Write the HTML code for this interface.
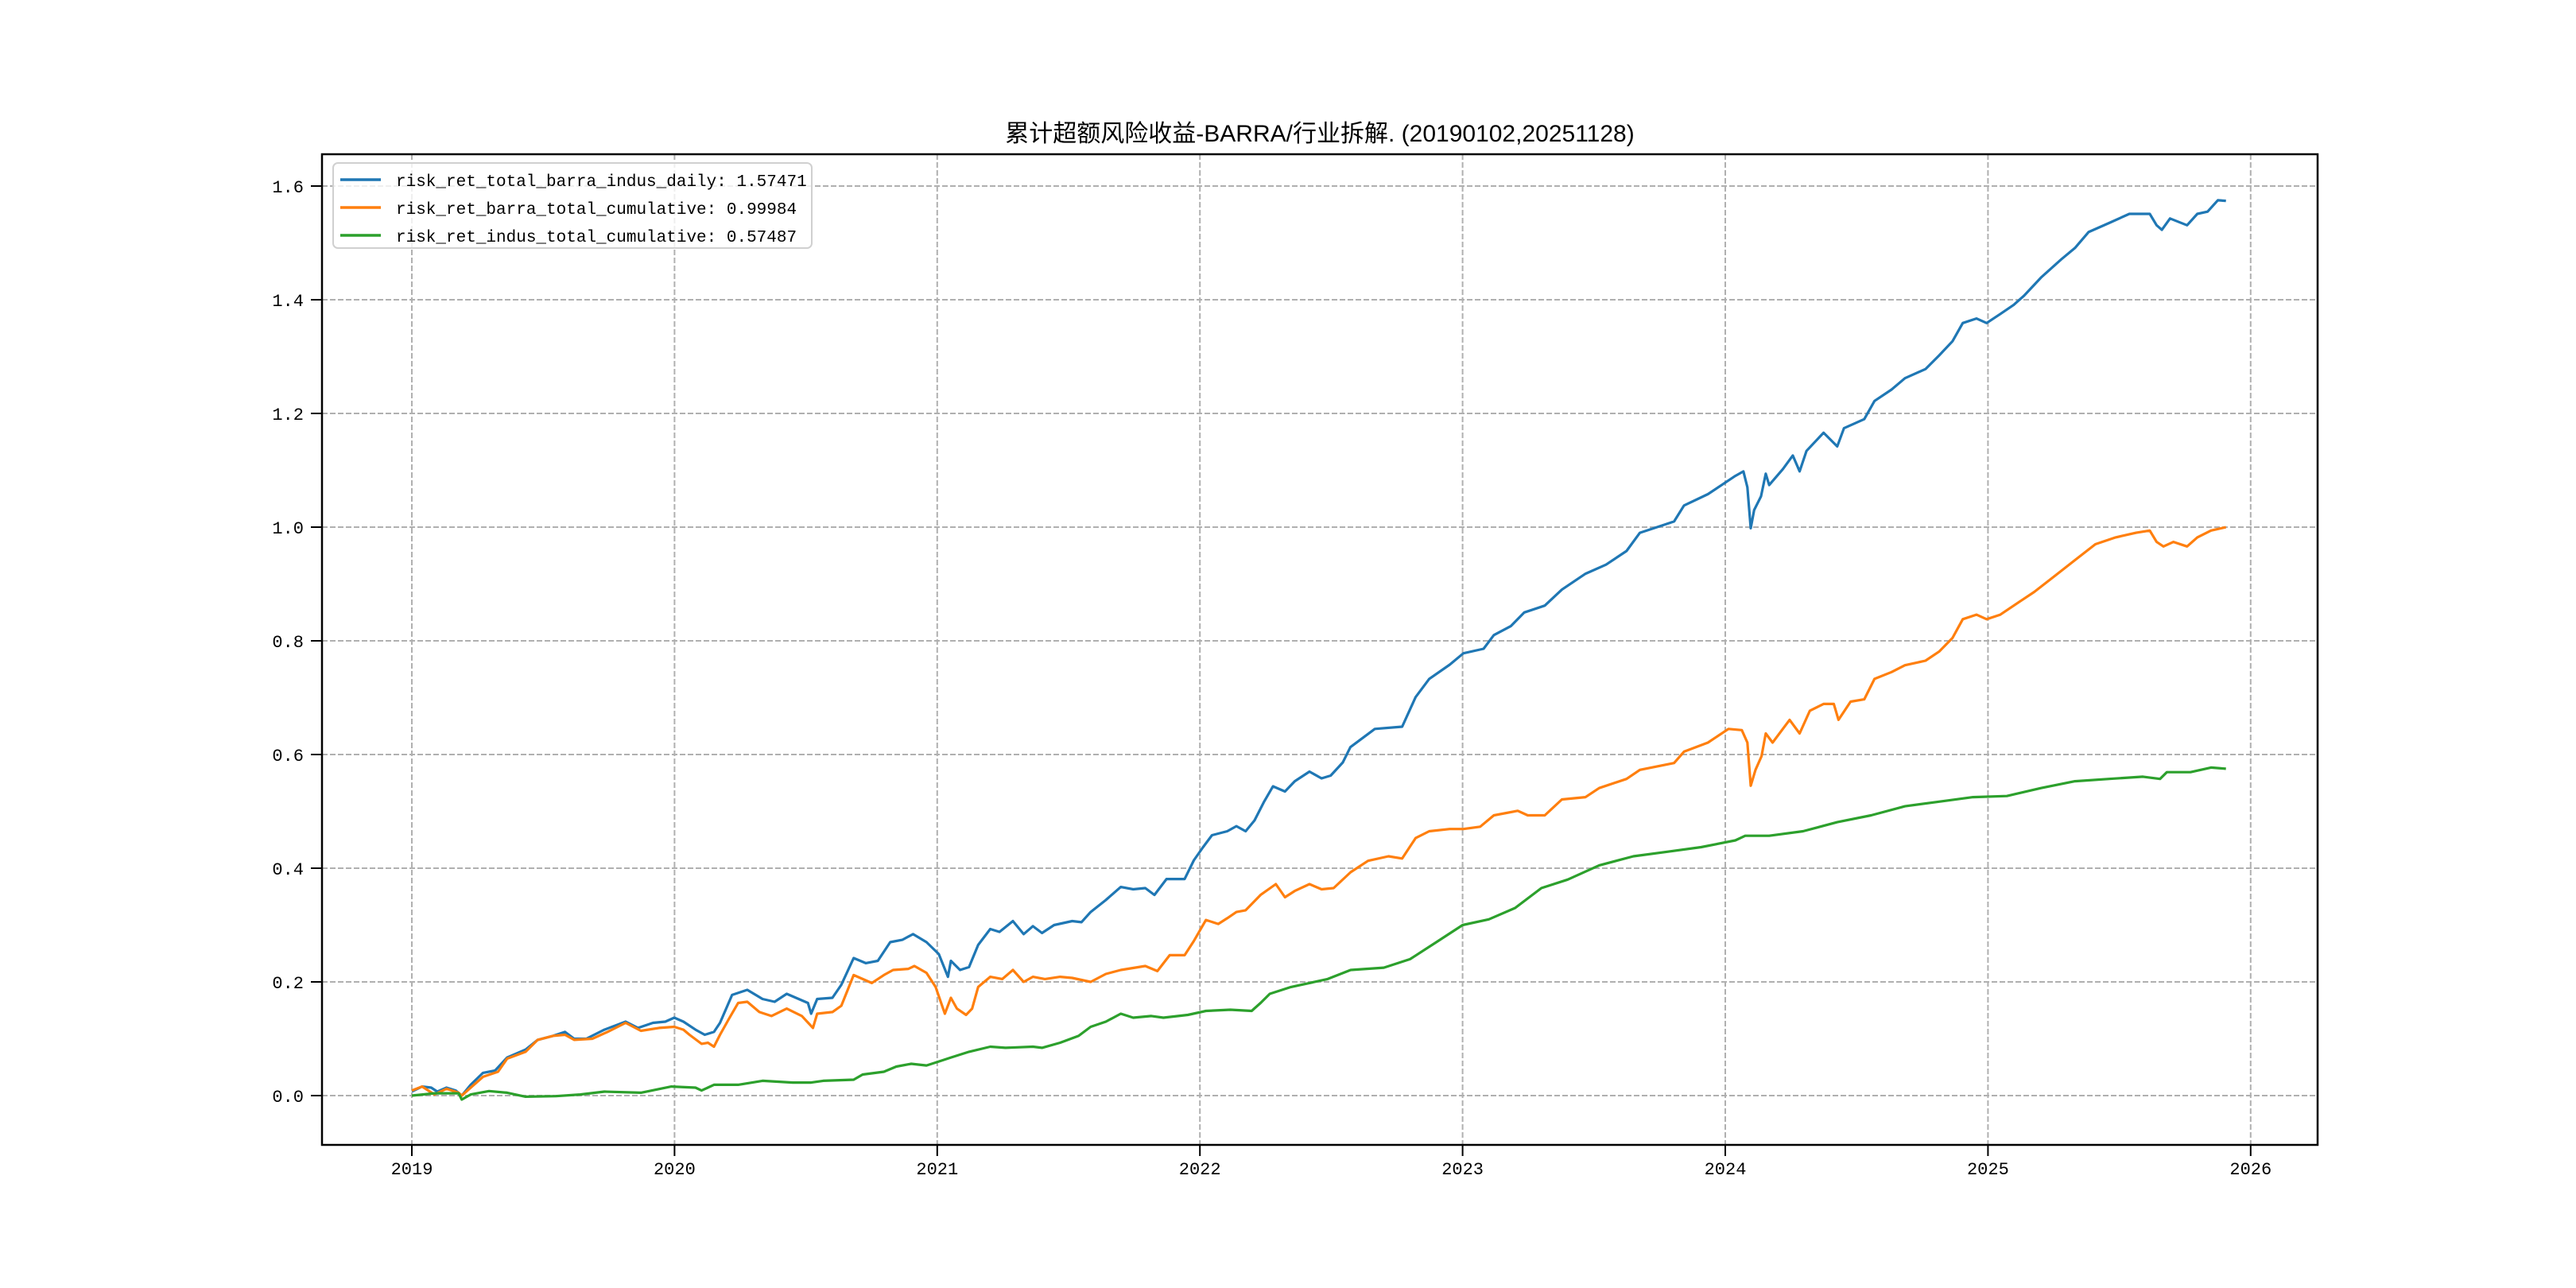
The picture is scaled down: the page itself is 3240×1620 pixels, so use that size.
<!DOCTYPE html>
<html><head><meta charset="utf-8"><style>
html,body{margin:0;padding:0;background:#fff;}
svg{display:block;}
</style></head><body>
<svg id="chart" width="3240" height="1620" viewBox="0 0 3240 1620" xmlns="http://www.w3.org/2000/svg">
<rect width="3240" height="1620" fill="#fff"/>
<text x="1660" y="178" text-anchor="middle" font-family="Liberation Sans, Noto Sans CJK SC, sans-serif" font-size="30">累计超额风险收益-BARRA/行业拆解. (20190102,20251128)</text>
<g id="grid"></g>
<g id="series"></g>
<rect x="405" y="194" width="2510" height="1246" fill="none" stroke="#000" stroke-width="2.5"/>
<g id="axes"></g>
<g id="legend"></g>
</svg>
<script>
// years since 2019 (x) and values (y)
const blueT=[0,0.039,0.074,0.097,0.132,0.167,0.19,0.224,0.271,0.317,0.363,0.433,0.479,0.537,0.583,0.618,0.664,0.733,0.814,0.861,0.918,0.965,0.999,1.034,1.08,1.115,1.15,1.173,1.219,1.277,1.335,1.381,1.427,1.508,1.52,1.543,1.601,1.635,1.682,1.728,1.774,1.821,1.867,1.908,1.959,2.006,2.041,2.052,2.087,2.121,2.156,2.202,2.237,2.288,2.329,2.364,2.399,2.445,2.514,2.549,2.584,2.642,2.699,2.746,2.792,2.827,2.873,2.942,2.977,3.012,3.046,3.104,3.139,3.174,3.208,3.243,3.278,3.324,3.361,3.417,3.463,3.498,3.544,3.573,3.666,3.77,3.821,3.873,3.951,4.003,4.08,4.119,4.184,4.235,4.313,4.378,4.468,4.546,4.624,4.675,4.753,4.805,4.843,4.934,4.986,5.038,5.069,5.084,5.097,5.11,5.136,5.154,5.167,5.219,5.257,5.283,5.309,5.374,5.426,5.452,5.529,5.568,5.633,5.684,5.762,5.814,5.865,5.904,5.956,5.995,6.047,6.098,6.137,6.202,6.279,6.331,6.383,6.461,6.538,6.616,6.642,6.662,6.693,6.758,6.797,6.836,6.875,6.906];
const blueV=[0.007,0.016,0.014,0.007,0.014,0.009,0.0,0.019,0.04,0.044,0.067,0.081,0.098,0.105,0.112,0.1,0.1,0.116,0.13,0.119,0.128,0.13,0.137,0.13,0.116,0.107,0.112,0.128,0.177,0.186,0.17,0.165,0.179,0.163,0.144,0.17,0.172,0.195,0.242,0.233,0.237,0.27,0.274,0.284,0.27,0.249,0.209,0.237,0.221,0.226,0.265,0.293,0.288,0.307,0.284,0.298,0.286,0.3,0.307,0.305,0.323,0.344,0.367,0.363,0.365,0.353,0.381,0.381,0.414,0.437,0.458,0.465,0.474,0.465,0.484,0.516,0.544,0.535,0.553,0.57,0.558,0.563,0.586,0.613,0.645,0.649,0.701,0.733,0.758,0.778,0.786,0.81,0.826,0.85,0.862,0.89,0.918,0.934,0.958,0.99,1.002,1.01,1.038,1.058,1.074,1.09,1.098,1.07,0.998,1.03,1.054,1.094,1.074,1.102,1.126,1.098,1.134,1.166,1.142,1.174,1.19,1.222,1.242,1.262,1.278,1.302,1.327,1.359,1.367,1.359,1.375,1.391,1.407,1.439,1.471,1.491,1.519,1.535,1.551,1.551,1.531,1.523,1.543,1.531,1.551,1.555,1.575,1.574];
const orangeT=[0,0.039,0.086,0.132,0.178,0.19,0.224,0.271,0.328,0.363,0.433,0.479,0.537,0.583,0.618,0.687,0.745,0.814,0.872,0.941,0.999,1.034,1.057,1.103,1.127,1.15,1.173,1.207,1.242,1.277,1.323,1.369,1.427,1.485,1.527,1.543,1.601,1.635,1.682,1.751,1.797,1.832,1.89,1.913,1.959,1.994,2.029,2.052,2.075,2.11,2.133,2.156,2.202,2.248,2.288,2.329,2.364,2.41,2.468,2.514,2.584,2.642,2.699,2.792,2.838,2.885,2.942,2.977,3.023,3.07,3.104,3.139,3.174,3.231,3.289,3.324,3.361,3.417,3.463,3.509,3.574,3.64,3.718,3.77,3.821,3.873,3.951,4.003,4.067,4.119,4.21,4.248,4.313,4.378,4.468,4.52,4.624,4.675,4.805,4.843,4.934,5.012,5.063,5.084,5.097,5.115,5.138,5.154,5.18,5.245,5.283,5.322,5.374,5.413,5.431,5.477,5.529,5.568,5.633,5.684,5.762,5.814,5.865,5.904,5.956,5.995,6.047,6.111,6.176,6.254,6.331,6.409,6.486,6.564,6.616,6.642,6.668,6.706,6.758,6.797,6.849,6.906];
const orangeV=[0.009,0.016,0.002,0.012,0.005,0.0,0.014,0.033,0.042,0.065,0.077,0.098,0.105,0.107,0.098,0.1,0.112,0.128,0.114,0.119,0.121,0.116,0.107,0.091,0.093,0.086,0.107,0.135,0.163,0.165,0.147,0.14,0.153,0.14,0.119,0.144,0.147,0.158,0.212,0.198,0.212,0.221,0.223,0.228,0.216,0.191,0.144,0.172,0.153,0.142,0.153,0.191,0.209,0.205,0.221,0.2,0.209,0.205,0.209,0.207,0.2,0.214,0.221,0.228,0.219,0.247,0.247,0.272,0.309,0.302,0.312,0.323,0.326,0.353,0.372,0.349,0.36,0.372,0.363,0.365,0.393,0.413,0.421,0.417,0.453,0.465,0.469,0.469,0.473,0.493,0.501,0.493,0.493,0.521,0.525,0.541,0.557,0.573,0.585,0.605,0.621,0.645,0.643,0.621,0.545,0.573,0.597,0.637,0.621,0.661,0.637,0.677,0.689,0.689,0.661,0.693,0.697,0.733,0.745,0.757,0.765,0.781,0.805,0.838,0.846,0.838,0.846,0.866,0.886,0.914,0.942,0.97,0.982,0.99,0.994,0.974,0.966,0.974,0.966,0.982,0.994,0.9998];
const greenT=[0,0.086,0.178,0.19,0.224,0.294,0.363,0.433,0.548,0.641,0.733,0.872,0.988,1.08,1.103,1.15,1.242,1.335,1.45,1.52,1.566,1.682,1.716,1.797,1.844,1.901,1.959,2.006,2.052,2.121,2.202,2.26,2.364,2.399,2.468,2.538,2.584,2.642,2.699,2.746,2.815,2.861,2.954,3.023,3.116,3.197,3.231,3.266,3.347,3.417,3.486,3.574,3.7,3.8,3.9,4.0,4.1,4.2,4.3,4.4,4.52,4.65,4.779,4.908,5.038,5.076,5.167,5.296,5.426,5.555,5.684,5.814,5.943,6.072,6.202,6.331,6.461,6.59,6.655,6.681,6.771,6.849,6.906];
const greenV=[0,0.004,0.004,-0.007,0.002,0.008,0.005,-0.002,-0.001,0.002,0.007,0.005,0.016,0.014,0.009,0.019,0.019,0.026,0.023,0.023,0.026,0.028,0.037,0.042,0.051,0.056,0.053,0.06,0.067,0.077,0.086,0.084,0.086,0.084,0.093,0.105,0.121,0.13,0.144,0.137,0.14,0.137,0.142,0.149,0.151,0.149,0.163,0.179,0.191,0.198,0.205,0.221,0.225,0.24,0.27,0.3,0.31,0.33,0.365,0.38,0.405,0.421,0.429,0.437,0.449,0.457,0.457,0.465,0.481,0.493,0.509,0.517,0.525,0.527,0.541,0.553,0.557,0.561,0.557,0.569,0.569,0.577,0.575];
const yTicks=[0.0,0.2,0.4,0.6,0.8,1.0,1.2,1.4,1.6];
const xTicks=[2019,2020,2021,2022,2023,2024,2025,2026];
const legendLabels=["risk_ret_total_barra_indus_daily: 1.57471","risk_ret_barra_total_cumulative: 0.99984","risk_ret_indus_total_cumulative: 0.57487"];

const NS="http://www.w3.org/2000/svg";
function xs(t){return 518+330.4*t;}
function xYear(y){return xs(y-2019);}
function ys(v){return 1378-715*v;}
function mk(tag,attrs,parent){const e=document.createElementNS(NS,tag);for(const k in attrs)e.setAttribute(k,attrs[k]);parent.appendChild(e);return e;}
const grid=document.getElementById('grid'),axes=document.getElementById('axes'),ser=document.getElementById('series'),leg=document.getElementById('legend');
const FONT="Liberation Mono, monospace";
yTicks.forEach(v=>{
  const y=ys(v);
  const g=mk('line',{x1:405,x2:2915,y1:y,y2:y,stroke:'#b0b0b0','stroke-width':2,'stroke-dasharray':'7,3'},grid);
  
  
  mk('line',{x1:391,x2:405,y1:y,y2:y,stroke:'#000','stroke-width':2},axes);
  const t=mk('text',{x:382,y:y+8,'text-anchor':'end','font-family':FONT,'font-size':22},axes);
  t.textContent=v.toFixed(1);
  
  
});
xTicks.forEach(yr=>{
  const x=xYear(yr);
  const g=mk('line',{x1:x,x2:x,y1:194,y2:1440,stroke:'#b0b0b0','stroke-width':2,'stroke-dasharray':'7,3'},grid);
  
  
  mk('line',{x1:x,x2:x,y1:1440,y2:1454,stroke:'#000','stroke-width':2},axes);
  const t=mk('text',{x:x,y:1477,'text-anchor':'middle','font-family':FONT,'font-size':22},axes);
  t.textContent=String(yr);
  
  
});
const series=[[blueT,blueV,'#1f77b4','line-total-barra-indus'],[orangeT,orangeV,'#ff7f0e','line-barra-total'],[greenT,greenV,'#2ca02c','line-indus-total']];
series.forEach(s=>{
  const d=s[0].map((t,i)=>(i?'L':'M')+xs(t).toFixed(1)+','+ys(s[1][i]).toFixed(1)).join(' ');
  const p=mk('path',{d:d,fill:'none',stroke:s[2],'stroke-width':3.2,'stroke-linejoin':'round'},ser);
  
  
});
const box=mk('rect',{x:419,y:205,width:602,height:107,rx:6,fill:'#fff','fill-opacity':0.8,stroke:'#d0d0d0','stroke-width':2},leg);


legendLabels.forEach((lab,i)=>{
  const y=226+i*35;
  mk('line',{x1:428,x2:479,y1:y,y2:y,stroke:series[i][2],'stroke-width':3.5},leg);
  const t=mk('text',{x:498,y:y+8,'font-family':FONT,'font-size':21},leg);
  t.textContent=lab;
  
  
});
</script>
</body></html>
